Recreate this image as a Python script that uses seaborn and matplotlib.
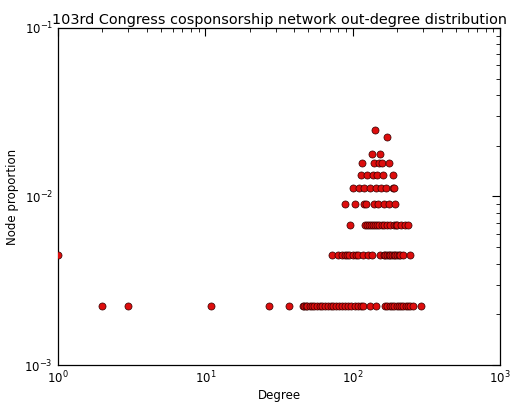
import numpy as np
import pandas as pd
import matplotlib
matplotlib.use("Agg")
import matplotlib.pyplot as plt
import seaborn as sns

sns.set_style("white", {"xtick.direction": "in", "ytick.direction": "in",
                        "text.color": "black", "axes.labelcolor": "black",
                        "xtick.color": "black", "ytick.color": "black"})
plt.rcParams['font.family'] = ['DejaVu Sans']

n_nodes = 445

# degrees grouped by how many nodes have that out-degree
deg_c1 = [2, 3, 11, 27, 37, 46, 47, 48, 49, 51, 53, 55, 57, 60, 62, 65, 68, 71, 74,
          77, 81, 85, 89, 93, 98, 103, 108, 113, 117, 131, 143, 166, 172, 178, 185,
          191, 198, 205, 212, 220, 228, 236, 245, 256, 291]
deg_c2 = [1, 72, 79, 84, 89, 92, 95, 101, 106, 109, 118, 127, 135, 154, 162, 166,
          171, 175, 179, 184, 189, 194, 199, 205, 210, 219, 243]
deg_c3 = [96, 121, 124, 128, 132, 137, 141, 146, 151, 157, 164, 171, 180, 190, 196,
          201, 213, 226, 238]
deg_c4 = [88, 104, 119, 122, 140, 149, 163, 176, 193]
deg_c5 = [100, 111, 120, 130, 144, 155, 167, 188, 191]
deg_c6 = [114, 125, 138, 147, 161, 187]
deg_c7 = [115, 139, 150, 159, 177]
deg_c8 = [136, 153]
deg_c10 = [170]
deg_c11 = [142]

groups = {1: deg_c1, 2: deg_c2, 3: deg_c3, 4: deg_c4, 5: deg_c5, 6: deg_c6,
          7: deg_c7, 8: deg_c8, 10: deg_c10, 11: deg_c11}
rows = []
for cnt, degs in groups.items():
    for d in degs:
        rows.append({"degree": d, "proportion": cnt / n_nodes})
df = pd.DataFrame(rows)

fig = plt.figure(figsize=(5.12, 4.03), dpi=100)
ax = fig.add_axes([0.113, 0.094, 0.864, 0.837])
sns.scatterplot(data=df, x="degree", y="proportion", ax=ax, color="#dd0d0d",
                edgecolor="#300000", linewidth=0.5, s=26, zorder=3)
ax.set_xscale("log")
ax.set_yscale("log")
ax.set_xlim(1, 1000)
ax.set_ylim(1e-3, 1e-1)
ax.set_title("103rd Congress cosponsorship network out-degree distribution",
             fontsize=10.4, pad=3, color="black")
ax.set_xlabel("Degree", fontsize=8.5, labelpad=2)
ax.set_ylabel("Node proportion", fontsize=8.5, labelpad=4)
ax.tick_params(which="both", top=True, right=True, direction="in", labelsize=8.5,
               colors="black")
ax.tick_params(which="major", length=6, width=0.8)
ax.tick_params(which="minor", length=3, width=0.6)
for sp in ax.spines.values():
    sp.set_color("black")
    sp.set_linewidth(0.9)

fig.savefig("out.png", dpi=100)
